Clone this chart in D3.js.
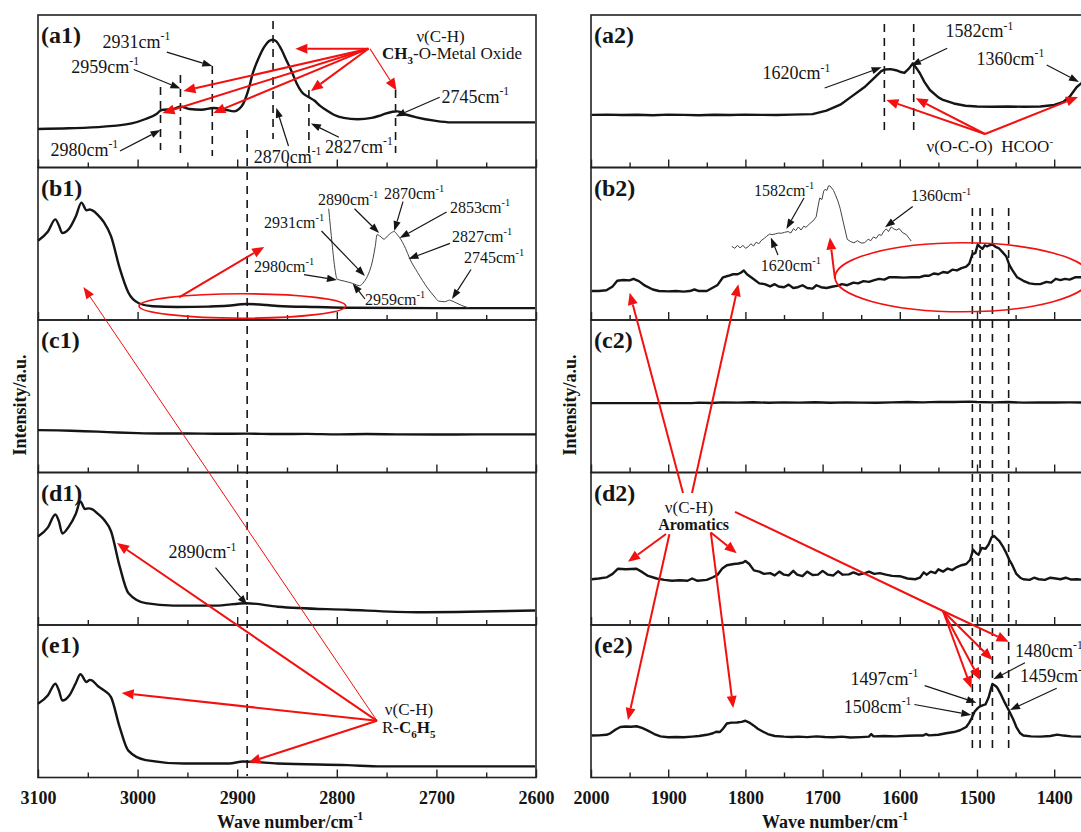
<!DOCTYPE html>
<html>
<head>
<meta charset="utf-8">
<script src="https://cdn.jsdelivr.net/npm/d3@7"></script>
<style>
  body { margin: 0; background: #fff; }
  svg { display: block; font-family: "Liberation Serif", "Times New Roman", serif; }
</style>
</head>
<body>
<div id="chart"></div>
<script>
// tick values
const leftMajor = [3100, 3000, 2900, 2800, 2700, 2600];
const leftMinor = [3050, 2950, 2850, 2750, 2650];
const rightMajor = [2000, 1900, 1800, 1700, 1600, 1500, 1400, 1300];
const rightMinor = [1950, 1850, 1750, 1650, 1550, 1450, 1350];
const leftNames = ["(a1)", "(b1)", "(c1)", "(d1)", "(e1)"];
const rightNames = ["(a2)", "(b2)", "(c2)", "(d2)", "(e2)"];

// spectra, [wavenumber, relative intensity]
const a1 = [[3100,.252],[3069,.257],[3034,.268],[3006,.289],[2992,.318],[2981,.351],[2976,.377],[2964,.384],[2957,.399],[2948,.384],[2936,.379],[2924,.39],[2912,.379],[2903,.368],[2898,.384],[2894,.417],[2889,.504],[2884,.625],[2878,.724],[2873,.789],[2868,.829],[2864.5,.838],[2861,.829],[2856,.779],[2850.5,.702],[2845,.625],[2840,.548],[2835,.493],[2828,.461],[2822.6,.439],[2817,.406],[2810,.373],[2803,.346],[2793,.325],[2779,.316],[2765,.325],[2755,.344],[2744,.366],[2739,.368],[2730,.346],[2720,.329],[2702,.307],[2685,.296],[2601,.296]];
const b1 = [[3100,.52],[3090,.58],[3082.6,.66],[3079,.62],[3075.6,.57],[3068.6,.6],[3062,.68],[3056.4,.77],[3051.2,.72],[3048,.725],[3045.9,.72],[3040,.69],[3033.7,.64],[3026.7,.55],[3018,.34],[3009.3,.18],[2998.8,.11],[2985,.09],[2960,.085],[2929,.088],[2910,.093],[2890.7,.105],[2870,.098],[2859.3,.092],[2820,.085],[2789.5,.08],[2700,.078],[2601,.078]];
const b1Inset = [[2997,.73],[2990,.5],[2984,.33],[2980,.27],[2972,.26],[2965,.255],[2959,.25],[2953,.245],[2948,.24],[2940,.23],[2934,.225],[2925,.25],[2916,.3],[2908,.38],[2902,.48],[2898,.56],[2892,.55],[2884,.53],[2877,.55],[2870,.57],[2863,.58],[2857,.56],[2852,.54],[2840,.47],[2831,.4],[2815,.31],[2795,.21],[2780,.15],[2773,.125],[2760,.12],[2750,.13],[2745,.125],[2735,.11],[2725,.095],[2710,.08]];
const c1 = [[3100,.278],[3080,.276],[3060,.272],[3040,.268],[3020,.262],[3000,.258],[2980,.256],[2950,.256],[2920,.254],[2890,.255],[2860,.252],[2830,.253],[2800,.25],[2770,.252],[2740,.25],[2700,.249],[2660,.25],[2600,.25]];
const d1 = [[3100,.58],[3090,.64],[3082.6,.725],[3079,.68],[3075.6,.6],[3068.6,.65],[3062,.73],[3057.4,.81],[3052.9,.76],[3049,.765],[3045.9,.76],[3040,.73],[3033.7,.69],[3026.7,.615],[3018,.385],[3009.3,.21],[2991.8,.143],[2963.9,.127],[2922,.127],[2890.7,.143],[2859.3,.12],[2789.5,.1],[2719.7,.084],[2601,.095]];
const e1 = [[3100,.484],[3090,.54],[3082.6,.615],[3079,.57],[3075.6,.505],[3068.6,.538],[3062,.62],[3057.4,.677],[3051.2,.626],[3048,.64],[3045.9,.637],[3040,.6],[3033.7,.571],[3026.7,.527],[3018,.33],[3009.3,.176],[2991.8,.114],[2953.5,.092],[2908.1,.092],[2894.1,.105],[2859.3,.092],[2789.5,.081],[2754.6,.073],[2601,.073]];

const a2 = [[1999,.345],[1980,.347],[1960,.344],[1940,.346],[1920,.343],[1900,.347],[1880,.345],[1860,.343],[1840,.346],[1820,.344],[1800,.347],[1780,.345],[1760,.344],[1740,.347],[1713,.35],[1695,.373],[1677,.412],[1664,.46],[1646,.526],[1632,.592],[1624,.632],[1619,.643],[1612,.645],[1605,.638],[1600,.628],[1594,.62],[1588,.65],[1583,.683],[1578,.648],[1574,.618],[1568,.56],[1561,.508],[1550,.46],[1544,.443],[1530,.42],[1515,.405],[1500,.4],[1480,.398],[1460,.4],[1440,.398],[1418,.4],[1400,.41],[1388,.431],[1380,.464],[1371,.526],[1365,.552],[1358,.575],[1350,.6]];
const b2 = [[1999,.19],[1990,.19],[1980,.195],[1972,.22],[1966,.257],[1958,.262],[1950,.26],[1945,.27],[1938,.255],[1930,.225],[1920,.2],[1912,.19],[1900,.188],[1890,.19],[1880,.186],[1872,.19],[1866,.2],[1860,.19],[1850,.19],[1843,.21],[1836,.23],[1829,.28],[1822,.29],[1816,.3],[1810,.3],[1806,.31],[1802,.325],[1798,.3],[1790,.27],[1782,.24],[1775,.235],[1768,.22],[1762,.235],[1757,.22],[1750,.215],[1744,.232],[1738,.21],[1732,.215],[1726,.228],[1720,.21],[1713,.206],[1708,.228],[1702,.215],[1695,.21],[1688,.218],[1680,.225],[1675,.235],[1668,.228],[1660,.245],[1654,.24],[1647,.255],[1640,.25],[1633,.262],[1627,.27],[1620,.265],[1614,.28],[1605,.28],[1595,.278],[1585,.28],[1575,.28],[1568,.29],[1562,.29],[1556,.305],[1550,.3],[1544,.315],[1538,.31],[1532,.33],[1526,.325],[1520,.34],[1514,.35],[1510,.37],[1506,.43],[1502,.44],[1499,.495],[1496,.48],[1493,.466],[1490,.49],[1487,.483],[1484,.49],[1480,.495],[1476,.48],[1472,.472],[1467,.445],[1462,.416],[1458,.36],[1454,.325],[1448,.28],[1440,.257],[1432,.24],[1425,.235],[1418,.235],[1410,.25],[1404,.245],[1398,.27],[1392,.262],[1386,.27],[1380,.265],[1373,.28],[1365,.28]];
const b2Inset = [[1705,.483],[1698,.47],[1692,.49],[1686,.472],[1680,.49],[1674,.47],[1668,.48],[1662,.5],[1656,.485],[1650,.51],[1644,.5],[1639,.52],[1632,.535],[1626,.55],[1620,.563],[1614,.56],[1606,.565],[1600,.57],[1593,.569],[1586,.575],[1578,.58],[1572,.57],[1566,.6],[1561,.586],[1555,.61],[1549,.59],[1543,.615],[1538,.608],[1530,.63],[1522,.65],[1515,.676],[1511,.74],[1507,.8],[1502,.79],[1498,.845],[1495,.857],[1491,.85],[1487,.88],[1484,.879],[1480,.865],[1476,.85],[1472,.823],[1466,.78],[1461,.732],[1453,.63],[1445,.529],[1438,.515],[1430,.506],[1422,.52],[1414,.505],[1406,.506],[1398,.53],[1392,.52],[1386,.545],[1380,.535],[1374,.56],[1368,.555],[1362,.585],[1357,.597],[1352,.58],[1346,.61],[1340,.597],[1334,.59],[1328,.6],[1321,.574],[1312,.56],[1301,.518]];
const c2 = [[2000,.455],[1950,.455],[1900,.455],[1870,.455],[1860,.458],[1845,.456],[1830,.46],[1810,.458],[1790,.461],[1770,.457],[1750,.46],[1730,.458],[1710,.461],[1690,.457],[1670,.46],[1650,.458],[1630,.457],[1610,.46],[1590,.462],[1570,.46],[1550,.463],[1530,.462],[1510,.465],[1500,.462],[1480,.46],[1460,.462],[1440,.458],[1420,.46],[1400,.459],[1380,.46],[1360,.459]];
const d2 = [[1999,.3],[1990,.305],[1980,.312],[1972,.335],[1965,.369],[1955,.366],[1941,.369],[1933,.345],[1927,.324],[1915,.305],[1905,.296],[1895,.29],[1885,.293],[1875,.29],[1869,.305],[1862,.29],[1850,.296],[1842,.313],[1836,.33],[1830,.37],[1824,.392],[1815,.4],[1809,.403],[1803,.41],[1800,.42],[1795,.4],[1789,.358],[1782,.35],[1776,.335],[1768,.34],[1762,.325],[1756,.35],[1750,.33],[1744,.325],[1738,.355],[1733,.33],[1726,.32],[1720,.35],[1713,.328],[1706,.33],[1700,.355],[1693,.33],[1686,.325],[1680,.352],[1674,.33],[1666,.332],[1660,.345],[1653,.33],[1645,.34],[1640,.35],[1633,.335],[1626,.34],[1618,.33],[1610,.322],[1600,.32],[1590,.305],[1580,.3],[1574,.31],[1569,.345],[1565,.33],[1560,.35],[1554,.34],[1550,.365],[1544,.35],[1538,.37],[1532,.36],[1526,.38],[1520,.392],[1514,.4],[1509,.426],[1505,.494],[1501,.47],[1498,.46],[1494,.505],[1489,.5],[1485,.528],[1481,.575],[1478,.584],[1474,.565],[1471,.55],[1466,.51],[1462,.471],[1458,.426],[1455,.4],[1449,.335],[1444,.31],[1440,.3],[1432,.296],[1426,.31],[1420,.3],[1412,.296],[1405,.31],[1398,.305],[1392,.3],[1385,.31],[1378,.298],[1370,.3],[1362,.296]];
const e2 = [[1999,.275],[1990,.276],[1980,.28],[1975,.29],[1968,.315],[1962,.331],[1955,.334],[1948,.333],[1941,.336],[1934,.325],[1927,.309],[1918,.285],[1910,.27],[1900,.264],[1890,.266],[1880,.264],[1869,.268],[1860,.272],[1850,.28],[1842,.29],[1838,.3],[1833,.298],[1829,.32],[1824,.354],[1818,.36],[1811,.361],[1805,.365],[1800,.372],[1795,.36],[1789,.34],[1784,.32],[1777,.3],[1771,.285],[1762,.272],[1750,.268],[1740,.266],[1731,.268],[1720,.265],[1708,.27],[1697,.266],[1686,.264],[1675,.268],[1664,.262],[1650,.265],[1640,.268],[1637,.285],[1634,.27],[1620,.272],[1605,.27],[1590,.274],[1578,.275],[1570,.275],[1566,.285],[1562,.276],[1550,.28],[1540,.29],[1530,.298],[1522,.31],[1514,.331],[1510,.36],[1507,.388],[1503,.433],[1499,.455],[1496,.467],[1492,.475],[1489,.479],[1485,.524],[1482,.58],[1480,.614],[1476,.6],[1474,.591],[1469,.545],[1465,.501],[1458,.433],[1453,.38],[1449,.331],[1444,.29],[1440,.275],[1430,.27],[1418,.268],[1405,.272],[1396,.281],[1388,.275],[1378,.27],[1365,.268]];

// marked peak positions (cm-1)
const a1Peaks = [2977, 2957, 2925, 2864, 2828, 2741];
const a2Peaks = [1620, 1582];
const aromaticPeaks = [1506, 1496, 1480, 1459];
const commonPeak = 2890;

const W = 1081, H = 832;
const rowTop = [15, 167.5, 320, 472.5, 625];
const rowH = 152.5;
const ink = "#151515", red = "#f21010";

const leftX = d3.scaleLinear().domain([3100, 2600]).range([38, 536]);
const rightX = d3.scaleLinear().domain([2000, 1300]).range([591, 1131.4]);
const rowY = i => d3.scaleLinear().domain([0, 1]).range([rowTop[i] + rowH, rowTop[i]]);
const b1InsetX = d3.scaleLinear().domain([2980, 2745]).range([337, 452]);
const b2InsetX = d3.scaleLinear().domain([1620, 1360]).range([769.5, 885]);

const svg = d3.select("#chart").append("svg").attr("width", W).attr("height", H);

function rich(x, y, size, parts, anchor = "start", color = ink) {
  const t = svg.append("text").attr("x", x).attr("y", y).attr("font-size", size)
    .attr("text-anchor", anchor).attr("fill", color);
  let shift = 0;
  parts.forEach(p => {
    const target = p.sub ? size * 0.3 : p.sup ? -size * 0.42 : 0;
    const s = t.append("tspan").text(p.t).attr("dy", target - shift);
    shift = target;
    if (p.sub || p.sup) s.attr("font-size", size * 0.65);
    if (p.b) s.attr("font-weight", "bold");
  });
  return t;
}
const cm = (x, y, num, size = 18) => rich(x, y, size, [{ t: num + "cm" }, { t: "-1", sup: true }]);

function arrow(p1, p2, color = ink, w = 1.2, len = 10, half = 3.6) {
  const a = Math.atan2(p2[1] - p1[1], p2[0] - p1[0]);
  const bx = p2[0] - len * Math.cos(a), by = p2[1] - len * Math.sin(a);
  svg.append("line").attr("x1", p1[0]).attr("y1", p1[1]).attr("x2", bx).attr("y2", by)
    .attr("stroke", color).attr("stroke-width", w);
  svg.append("path")
    .attr("d", `M${p2[0]},${p2[1]}L${bx - half * Math.sin(a)},${by + half * Math.cos(a)}L${bx + half * Math.sin(a)},${by - half * Math.cos(a)}Z`)
    .attr("fill", color);
}
const redArrow = (p1, p2) => arrow(p1, p2, red, 2, 12, 5);
const redLine = (p1, p2, w = 2) => svg.append("line").attr("x1", p1[0]).attr("y1", p1[1])
  .attr("x2", p2[0]).attr("y2", p2[1]).attr("stroke", red).attr("stroke-width", w);

function dashed(x, y1, y2) {
  svg.append("line").attr("x1", x).attr("x2", x).attr("y1", y1).attr("y2", y2)
    .attr("stroke", ink).attr("stroke-width", 1.6).attr("stroke-dasharray", "8,6");
}

// panels
function column(x, spectra, names, major, minor, smooth) {
  const [x0, x1] = x.range();
  spectra.forEach((data, i) => {
    const y = rowY(i);
    const top = rowTop[i];
    svg.append("rect").attr("x", x0).attr("y", top).attr("width", x1 - x0).attr("height", rowH)
      .attr("fill", "none").attr("stroke", "#222").attr("stroke-width", 1.6);

    const axis = svg.append("g").attr("transform", `translate(0,${top + rowH})`).attr("color", "#222");
    axis.call(d3.axisBottom(x).tickValues(major).tickSize(-8).tickPadding(14)
      .tickFormat(i === 4 ? d => d : ""));
    axis.append("g").call(d3.axisBottom(x).tickValues(minor).tickSize(-5).tickFormat(""));
    axis.selectAll(".domain").remove();
    axis.selectAll("line").attr("stroke-width", 1.4);
    axis.selectAll("text").attr("font-family", "Liberation Serif").attr("font-size", 18)
      .attr("font-weight", "bold").attr("fill", ink);

    const line = d3.line().x(d => x(d[0])).y(d => y(d[1]))
      .curve(smooth ? d3.curveMonotoneX : d3.curveLinear);
    svg.append("path").datum(data).attr("d", line)
      .attr("fill", "none").attr("stroke", ink).attr("stroke-width", 2.4).attr("stroke-linejoin", "round");

    svg.append("text").attr("x", x0 + 3).attr("y", top + 28).attr("font-size", 24)
      .attr("font-weight", "bold").attr("fill", ink).text(names[i]);
  });
}
column(leftX, [a1, b1, c1, d1, e1], leftNames, leftMajor, leftMinor, true);
column(rightX, [a2, b2, c2, d2, e2], rightNames, rightMajor, rightMinor, false);

// zoomed insets
const yB = rowY(1);
svg.append("path").datum(b1Inset)
  .attr("d", d3.line().x(d => b1InsetX(d[0])).y(d => yB(d[1])).curve(d3.curveMonotoneX))
  .attr("fill", "none").attr("stroke", "#444").attr("stroke-width", 1);
svg.append("path").datum(b2Inset)
  .attr("d", d3.line().x(d => b2InsetX(d[0])).y(d => yB(d[1])))
  .attr("fill", "none").attr("stroke", "#444").attr("stroke-width", 1);

// axis titles
[290, 835].forEach(cx => {
  rich(cx, 828, 18, [{ t: "Wave number/cm", b: true }, { t: "-1", sup: true, b: true }], "middle");
});
[26, 576].forEach(bx => {
  svg.append("text").attr("transform", `translate(${bx},405) rotate(-90)`)
    .attr("text-anchor", "middle").attr("font-size", 18).attr("font-weight", "bold")
    .attr("fill", ink).text("Intensity/a.u.");
});

// dashed peak markers
const a1Span = [[87, 150], [75, 153], [66, 156], [21, 139], [90, 153], [90, 153]];
a1Peaks.forEach((p, i) => dashed(leftX(p), a1Span[i][0], a1Span[i][1]));
dashed(leftX(commonPeak), 130, 776);
a2Peaks.forEach(p => dashed(rightX(p), 24, 133));
aromaticPeaks.forEach(p => dashed(rightX(p), 208, 754));

// a1 annotations
cm(102.5, 48, "2931"); arrow([166.8, 52.1], [leftX(2925), 66]);
cm(71.3, 73, "2959"); arrow([133.8, 69.5], [leftX(2957), 88.6]);
cm(50.4, 155.7, "2980"); arrow([120, 151], [leftX(2977), 130]);
cm(253.7, 162.7, "2870"); arrow([288.5, 146], [276.3, 107.7]);
cm(325, 153, "2827"); arrow([338.9, 137.3], [leftX(2828) + 2, 123.4]);
cm(441.4, 102.5, "2745"); arrow([439.7, 97.3], [leftX(2741), 116.4]);
rich(440.6, 41.5, 17, [{ t: "ν(C-H)" }], "middle");
rich(382, 58.5, 17, [{ t: "CH", b: true }, { t: "3", sub: true, b: true }, { t: "-O-Metal Oxide" }]);
const o1 = [368.4, 48.7];
redArrow(o1, [295.4, 48.7]);
redArrow(o1, [leftX(2957) + 3, 91]);
redArrow(o1, [leftX(2977) + 2, 113]);
redArrow(o1, [leftX(2925) + 1, 113]);
redArrow(o1, [leftX(2828) + 2, 91]);
arrow([370, 48.7], [leftX(2741) + 1, 90.4], red, 1.2, 12, 5);

// b1 annotations
cm(318, 205, "2890", 16); arrow([354.5, 208.7], [b1InsetX(2894), 233]);
cm(384, 199, "2870", 16); arrow([403, 201.7], [b1InsetX(2863), 231]);
cm(450, 213, "2853", 16); arrow([446.6, 212], [b1InsetX(2852), 238]);
cm(264, 228, "2931", 16); arrow([321.5, 231], [b1InsetX(2923), 276]);
cm(452, 242, "2827", 16); arrow([450, 243.4], [b1InsetX(2834), 259]);
cm(464, 263, "2745", 16); arrow([471, 269.5], [b1InsetX(2745), 299]);
cm(254, 272, "2980", 16); arrow([304, 274.7], [b1InsetX(2980), 280]);
cm(365, 305, "2959", 16); arrow([365, 299], [b1InsetX(2948), 283.4]);
svg.append("ellipse").attr("cx", 242.4).attr("cy", 306).attr("rx", 103.4).attr("ry", 12.2)
  .attr("fill", "none").attr("stroke", red).attr("stroke-width", 1.6);
redArrow([179, 297.3], [264.2, 246.9]);

// d1 / e1 annotations
cm(168.6, 558.4, "2890"); arrow([215.5, 567.7], [leftX(commonPeak), 605]);
rich(409, 714.5, 17, [{ t: "ν(C-H)" }], "middle");
rich(382, 733, 17, [{ t: "R-" }, { t: "C", b: true }, { t: "6", sub: true, b: true }, { t: "H", b: true }, { t: "5", sub: true, b: true }]);
const o2 = [377, 720.8];
redArrow(o2, [121.7, 693]);
redArrow(o2, [248.5, 762.5]);
redArrow(o2, [117, 543]);
arrow(o2, [83.4, 286.9], red, 1, 12, 4.5);

// a2 annotations
cm(762.6, 79.4, "1620"); arrow([824.7, 88], [881.6, 67.3]);
cm(945.5, 37.3, "1582"); arrow([947.2, 48.3], [911, 65.6]);
cm(976.5, 64.9, "1360"); arrow([1046.7, 65], [1079, 82]);
rich(926.5, 151.8, 17, [{ t: "ν(O-C-O)\u00a0\u00a0HCOO" }, { t: "-", sup: true }]);
const o3 = [985, 134];
redArrow(o3, [rightX(1620) + 2, 100]);
redArrow(o3, [rightX(1582) + 2, 98.3]);
redArrow(o3, [1078, 97]);

// b2 annotations
cm(754, 195.5, "1582", 16); arrow([804, 198], [b2InsetX(1582), 229]);
cm(911, 201.4, "1360", 16); arrow([912.7, 206.6], [b2InsetX(1360), 227.3]);
cm(760.8, 271, "1620", 16); arrow([778, 255], [b2InsetX(1617), 237.6]);
svg.append("ellipse").attr("cx", 962.7).attr("cy", 277.3).attr("rx", 127.7).attr("ry", 34.5)
  .attr("fill", "none").attr("stroke", red).attr("stroke-width", 1.6);
redArrow([835, 279], [829.9, 237.6]);

// d2 aromatic label with its arrows
rich(689, 512.8, 17, [{ t: "ν(C-H)" }], "middle");
rich(693.6, 530, 16, [{ t: "Aromatics", b: true }], "middle");
redArrow([666, 534], [628, 561.8]);
redArrow([710.8, 532.5], [736.7, 553.2]);
redArrow([683, 493], [629.7, 292.8]);
redArrow([692, 493], [738.4, 284.2]);
redArrow([669.4, 534.2], [628, 720]);
redArrow([710.8, 532.5], [733.2, 708]);
const fan = [943, 611];
redLine([735, 511.8], fan);
redArrow(fan, [rightX(1506) - 1, 688.3]);
redArrow(fan, [rightX(1496), 680]);
redArrow(fan, [rightX(1480), 660]);
redArrow(fan, [rightX(1459), 641.7]);

// e2 annotations
cm(1015, 656.7, "1480"); arrow([1025, 662.7], [993.3, 679.3]);
cm(1020, 681.7, "1459"); arrow([1056.7, 688.3], [1010, 710]);
cm(850.6, 684.9, "1497"); arrow([924.7, 685.6], [976.5, 702.8]);
cm(843.7, 712.5, "1508"); arrow([914.4, 704.5], [971.3, 714.9]);
</script>
</body>
</html>
